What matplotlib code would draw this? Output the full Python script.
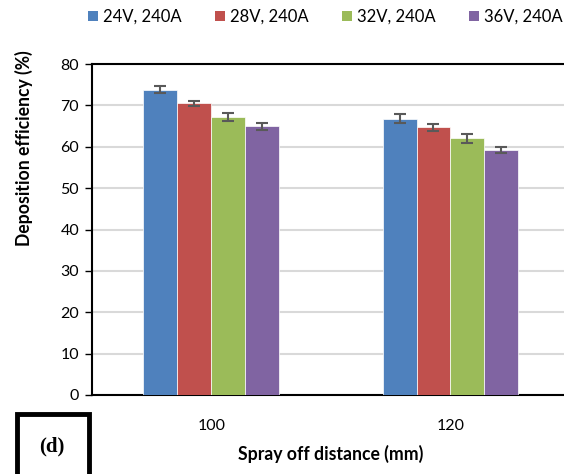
import matplotlib
matplotlib.use("Agg")
import matplotlib.pyplot as plt
import numpy as np
from matplotlib.patches import Patch, Rectangle

plt.rcParams["font.family"] = ["Lato", "DejaVu Sans"]

categories = ["100", "120"]
series_labels = ["24V, 240A", "28V, 240A", "32V, 240A", "36V, 240A"]
values = {
    "24V, 240A": [73.8, 66.8],
    "28V, 240A": [70.5, 64.7],
    "32V, 240A": [67.2, 62.0],
    "36V, 240A": [65.0, 59.3],
}
errors = {
    "24V, 240A": [0.85, 1.0],
    "28V, 240A": [0.65, 0.8],
    "32V, 240A": [1.0, 1.0],
    "36V, 240A": [0.85, 0.7],
}
colors = ["#4F81BD", "#C0504D", "#9BBB59", "#8064A2"]
yticks = [0, 10, 20, 30, 40, 50, 60, 70, 80]

W, H = 564, 474
fig = plt.figure(figsize=(W / 100, H / 100), dpi=100)
ax = fig.add_axes([91.7 / W, 1 - 395 / H, (570 - 91.7) / W, (395 - 64) / H])

x = np.arange(len(categories))
bw = 0.1417
for i, (lab, c) in enumerate(zip(series_labels, colors)):
    off = (i - 1.5) * bw
    ax.bar(x + off, values[lab], bw, color=c, edgecolor="white", linewidth=0.5,
           yerr=errors[lab], capsize=4.3,
           error_kw=dict(ecolor="#595959", elinewidth=1.5, capthick=1.5), zorder=3)

ax.set_xlim(-0.5, 1.5)
ax.set_ylim(0, 80)
ax.set_yticks(yticks)
ax.set_xticks(x)
ax.set_xticklabels(categories)
ax.yaxis.grid(True, color="#D9D9D9", linewidth=1.5, zorder=0)
ax.set_axisbelow(True)
for s in ["left", "bottom", "top"]:
    ax.spines[s].set_color("black")
    ax.spines[s].set_linewidth(1.5)
ax.spines["right"].set_visible(False)
ax.tick_params(axis="y", direction="out", length=5, width=1, labelsize=11.5, pad=4)
ax.tick_params(axis="x", length=0, labelsize=11.5, pad=17)

ax.set_ylabel("Deposition efficiency (%)", fontweight="bold", fontsize=12.7)
ax.yaxis.set_label_coords((33 - 91.7) / (570 - 91.7), (395 - 148.5) / 331)
ax.set_xlabel("Spray off distance (mm)", fontweight="bold", fontsize=12.7, labelpad=9)

handles = [Patch(facecolor=c, edgecolor="none") for c in colors]
fig.legend(handles, series_labels, loc="center left", bbox_to_anchor=(88 / W, 1 - 17 / H),
           ncol=4, frameon=False, fontsize=12, handlelength=0.6, handleheight=0.6,
           handletextpad=0.3, columnspacing=2.0, borderaxespad=0, borderpad=0)

fig.patches.append(Rectangle((17 / W, 1 - 480 / H), 72 / W, 66 / H, transform=fig.transFigure,
                             fill=False, edgecolor="black", linewidth=3.5))
fig.text(52 / W, 1 - 446 / H, "(d)", family="Liberation Serif", fontweight="bold", fontsize=15,
         ha="center", va="center")

fig.savefig("out.png", dpi=100)
